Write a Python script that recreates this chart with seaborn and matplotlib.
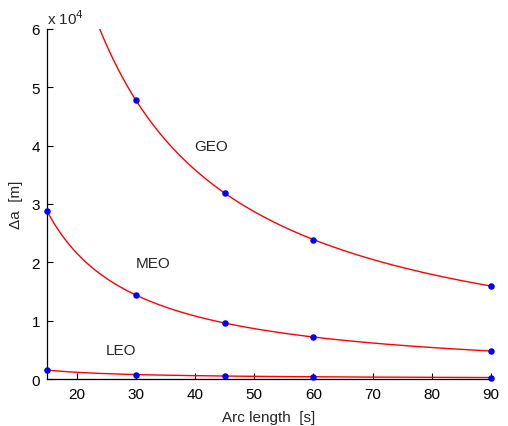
import numpy as np
import pandas as pd
import matplotlib
matplotlib.use("Agg")
from matplotlib import pyplot as plt
import seaborn as sns

# arc lengths [s] and measured delta a [m] per orbit
arc_geo = [30, 45, 60, 90]
da_geo = [47800, 31900, 23900, 15900]
arc_meo = [15, 30, 45, 60, 90]
da_meo = [28800, 14400, 9600, 7200, 4800]
arc_leo = [15, 30, 45, 60, 90]
da_leo = [1540, 770, 510, 380, 260]

orbit_names = ['GEO', 'MEO', 'LEO']

sns.set_style("ticks")
plt.rcParams['font.family'] = ['Liberation Sans', 'DejaVu Sans']
plt.rcParams['xtick.direction'] = 'in'
plt.rcParams['ytick.direction'] = 'in'

fig = plt.figure(figsize=(5.08, 4.27), dpi=100)
ax = fig.add_axes([0.0925, 0.110, 0.874, 0.820])

pts = []
curves = []
for name, xs, ys in zip(orbit_names, [arc_geo, arc_meo, arc_leo], [da_geo, da_meo, da_leo]):
    xs = np.array(xs, dtype=float)
    ys = np.array(ys, dtype=float)
    # least squares fit of k/x through the measured points
    k = np.sum(ys / xs) / np.sum(1 / xs**2)
    xx = np.linspace(15, 90, 300)
    curves.append(pd.DataFrame({'arc': xx, 'da': k / xx, 'orbit': name}))
    pts.append(pd.DataFrame({'arc': xs, 'da': ys, 'orbit': name}))

df_curve = pd.concat(curves, ignore_index=True)
df_pts = pd.concat(pts, ignore_index=True)

sns.lineplot(data=df_curve, x='arc', y='da', units='orbit', estimator=None,
             color='red', linewidth=1.0, ax=ax)
sns.scatterplot(data=df_pts, x='arc', y='da', color='blue', s=22,
                edgecolor='blue', linewidth=0, zorder=5, clip_on=False, ax=ax)

ax.set_xlim(15, 90)
ax.set_ylim(0, 60000)
ax.set_xticks(range(20, 91, 10))
ax.set_yticks(range(0, 60001, 10000))
ax.yaxis.set_major_formatter(matplotlib.ticker.FuncFormatter(lambda v, p: f"{v/1e4:g}"))
ax.tick_params(labelsize=11, length=4, width=0.8, colors='black')
ax.tick_params(axis='x', pad=6)
ax.tick_params(axis='y', pad=5)
for s in ['left', 'bottom']:
    ax.spines[s].set_linewidth(0.9)
    ax.spines[s].set_color('black')
sns.despine(ax=ax)

ax.set_xlabel('Arc length  [s]', fontsize=11, labelpad=6)
ax.set_ylabel('\u0394a  [m]', fontsize=11, labelpad=6)
ax.text(0.0, 1.005, 'x 10$^4$', transform=ax.transAxes, fontsize=11, ha='left', va='bottom')

ax.text(42.8, 40000, 'GEO', fontsize=11, ha='center', va='center')
ax.text(32.9, 19900, 'MEO', fontsize=11, ha='center', va='center')
ax.text(27.5, 5000, 'LEO', fontsize=11, ha='center', va='center')

fig.savefig('out.png', dpi=100)
